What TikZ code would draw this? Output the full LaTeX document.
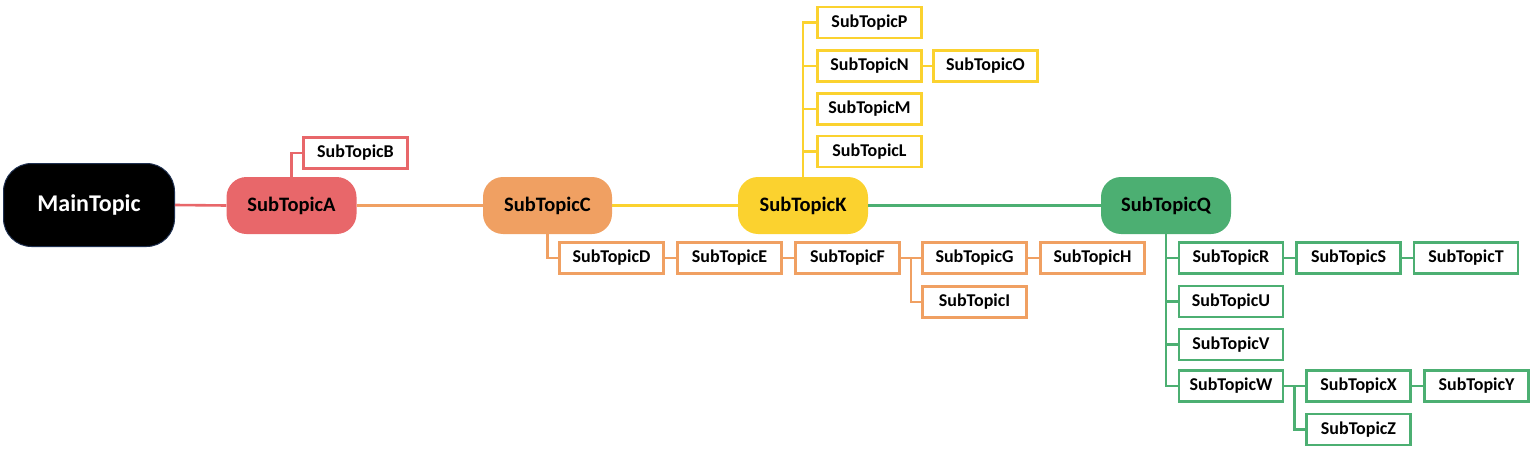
\documentclass[tikz,border=0pt]{standalone}
\usepackage{fontspec}
\setmainfont{Carlito}
\usetikzlibrary{calc}
\definecolor{cred}{HTML}{E8676A}
\definecolor{corange}{HTML}{F0A062}
\definecolor{cyellow}{HTML}{FBD22F}
\definecolor{cgreen}{HTML}{4CAF72}
\definecolor{cnavy}{HTML}{1F3050}
\tikzset{
  bignode/.style={rounded corners=20pt, minimum width=130pt, minimum height=57pt, inner sep=0pt,
    font=\fontsize{20.5}{24}\selectfont\bfseries, text=black},
  sbox/.style={draw=#1, fill=white, line width=2.6pt, minimum width=104pt, minimum height=31pt, inner sep=0pt,
    font=\fontsize{18}{21}\selectfont\bfseries, text=black},
  conn/.style={draw=#1, line width=2.6pt}
}
\begin{document}
\begin{tikzpicture}[x=1pt,y=-1pt]
\useasboundingbox (0,0) rectangle (1538,452);
% main nodes
\node[fill=black, draw=cnavy, line width=1pt, rounded corners=28pt, minimum width=171pt, minimum height=83pt,
  font=\fontsize{24}{28}\selectfont\bfseries, text=white] (main) at (89,205) {MainTopic};
\node[bignode, fill=cred] (A) at (291.5,205.5) {SubTopicA};
\node[bignode, fill=corange, minimum width=129pt] (C) at (547.5,205.5) {SubTopicC};
\node[bignode, fill=cyellow] (K) at (803,205.5) {SubTopicK};
\node[bignode, fill=cgreen] (Q) at (1166,205.5) {SubTopicQ};
% spine connectors
\draw[conn=cred] (main.east) -- (A.west);
\draw[conn=corange] (A.east) -- (C.west);
\draw[conn=cyellow] (C.east) -- (K.west);
\draw[conn=cgreen] (K.east) -- (Q.west);
% red child
\node[sbox=cred] (B) at (355.5,153) {SubTopicB};
\draw[conn=cred] (A.north) |- (B.west);
% orange children
\node[sbox=corange] (D) at (611.5,258) {SubTopicD};
\node[sbox=corange] (E) at (729.5,258) {SubTopicE};
\node[sbox=corange] (F) at (847.5,258) {SubTopicF};
\node[sbox=corange] (G) at (974.5,258) {SubTopicG};
\node[sbox=corange] (H) at (1092.5,258) {SubTopicH};
\node[sbox=corange] (I) at (974.5,302) {SubTopicI};
\draw[conn=corange] (C.south) |- (D.west);
\draw[conn=corange] (D.east) -- (E.west);
\draw[conn=corange] (E.east) -- (F.west);
\draw[conn=corange] (F.east) -- (G.west);
\coordinate (fj) at ($(F.east)!0.5!(G.west)$);
\draw[conn=corange] (fj) |- (I.west);
\draw[conn=corange] (G.east) -- (H.west);
% yellow children
\node[sbox=cyellow] (P) at (869.5,22.5) {SubTopicP};
\node[sbox=cyellow] (N) at (869.5,66) {SubTopicN};
\node[sbox=cyellow] (M) at (869.5,109) {SubTopicM};
\node[sbox=cyellow] (L) at (869.5,151.5) {SubTopicL};
\node[sbox=cyellow] (O) at (985.5,66) {SubTopicO};
\draw[conn=cyellow] (K.north) |- (P.west);
\draw[conn=cyellow] (K.north) |- (N.west);
\draw[conn=cyellow] (K.north) |- (M.west);
\draw[conn=cyellow] (K.north) |- (L.west);
\draw[conn=cyellow] (N.east) -- (O.west);
% green children
\node[sbox=cgreen] (R) at (1231,258) {SubTopicR};
\node[sbox=cgreen] (S) at (1348.5,258) {SubTopicS};
\node[sbox=cgreen] (T) at (1466,258) {SubTopicT};
\node[sbox=cgreen] (U) at (1231,301.5) {SubTopicU};
\node[sbox=cgreen] (V) at (1231,344.5) {SubTopicV};
\node[sbox=cgreen] (W) at (1231,386) {SubTopicW};
\node[sbox=cgreen] (X) at (1358.5,386) {SubTopicX};
\node[sbox=cgreen] (Y) at (1476.5,386) {SubTopicY};
\node[sbox=cgreen] (Z) at (1358.5,429.5) {SubTopicZ};
\draw[conn=cgreen] (Q.south) |- (R.west);
\draw[conn=cgreen] (Q.south) |- (U.west);
\draw[conn=cgreen] (Q.south) |- (V.west);
\draw[conn=cgreen] (Q.south) |- (W.west);
\draw[conn=cgreen] (R.east) -- (S.west);
\draw[conn=cgreen] (S.east) -- (T.west);
\draw[conn=cgreen] (W.east) -- (X.west);
\coordinate (wj) at ($(W.east)!0.5!(X.west)$);
\draw[conn=cgreen] (wj) |- (Z.west);
\draw[conn=cgreen] (X.east) -- (Y.west);
\end{tikzpicture}
\end{document}
